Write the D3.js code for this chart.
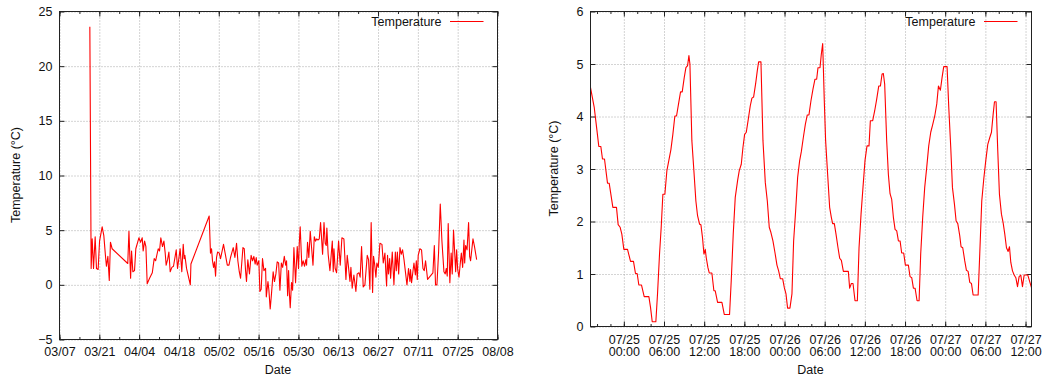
<!DOCTYPE html>
<html>
<head>
<meta charset="utf-8">
<script src="https://cdn.jsdelivr.net/npm/d3@7"></script>
<style>
    body { margin: 0; background: #fff; }
    text { font-family: "Liberation Sans", Arial, sans-serif; font-size: 12.5px; fill: #111; }
    .grid line { stroke: #a8a8a8; stroke-dasharray: 1,2; }
    .grid path { display: none; }
    .ticks line { stroke: #222; }
    .ticks path { display: none; }
</style>
</head>
<body>
<svg id="chart" width="1048" height="381"></svg>
<script>

// left panel: whole season, "MM/DD HH"
var leftDates = ["03/17 16","03/18 03","03/18 12","03/18 23","03/19 13","03/20 00","03/20 14","03/21 02","03/22 00","03/22 14",
    "03/23 05","03/23 12","03/24 00","03/24 12","03/24 22","03/25 12","03/31 00","03/31 10","04/01 00","04/01 08",
    "04/01 19","04/02 09","04/02 20","04/03 22","04/04 12","04/05 02","04/05 10","04/05 22","04/06 09","04/06 20",
    "04/07 16","04/08 15","04/09 07","04/09 19","04/10 17","04/11 04","04/11 15","04/12 05","04/12 17","04/13 04",
    "04/13 12","04/14 00","04/14 11","04/14 22","04/15 12","04/16 02","04/17 01","04/17 12","04/18 10","04/19 00",
    "04/19 12","04/19 20","04/20 02","04/20 16","04/22 00","04/22 05","04/28 15","04/29 02","04/29 11","04/29 19",
    "04/30 04","04/30 12","04/30 21","05/01 05","05/01 14","05/02 04","05/02 15","05/03 16","05/04 09","05/05 00",
    "05/05 14","05/06 03","05/07 02","05/07 16","05/08 06","05/08 17","05/09 05","05/09 16","05/10 12","05/10 23",
    "05/11 10","05/11 18","05/12 05","05/12 19","05/13 09","05/13 21","05/14 08","05/14 19","05/15 04","05/15 12",
    "05/16 02","05/16 11","05/16 22","05/17 09","05/17 21","05/18 11","05/18 17","05/19 07","05/19 15","05/20 02",
    "05/20 13","05/21 03","05/21 14","05/22 02","05/22 13","05/23 01","05/23 12","05/24 00","05/24 11","05/25 01",
    "05/25 12","05/25 20","05/26 05","05/26 13","05/26 19","05/27 03","05/27 14","05/27 23","05/28 10","05/29 00",
    "05/29 14","05/30 01","05/30 07","05/30 15","05/31 05","05/31 16","06/01 04","06/01 15","06/01 21","06/02 05",
    "06/02 16","06/03 04","06/04 03","06/04 14","06/05 01","06/05 10","06/05 21","06/06 08","06/06 19","06/07 12",
    "06/08 00","06/08 10","06/08 19","06/09 00","06/09 11","06/10 02","06/10 22","06/11 06","06/11 12","06/11 22",
    "06/12 10","06/13 03","06/13 17","06/14 07","06/15 00","06/15 09","06/15 17","06/16 04","06/16 15","06/17 03",
    "06/17 11","06/17 22","06/18 12","06/19 05","06/19 16","06/20 07","06/20 17","06/21 05","06/21 19","06/22 09",
    "06/23 05","06/23 16","06/24 03","06/24 14","06/25 02","06/25 10","06/25 19","06/26 06","06/26 14","06/27 02",
    "06/27 16","06/28 09","06/28 20","06/29 10","06/29 18","06/30 00","06/30 08","06/30 16","07/01 02","07/01 10",
    "07/02 00","07/02 14","07/03 02","07/03 10","07/03 19","07/04 06","07/04 17","07/05 04","07/05 15","07/06 03",
    "07/07 04","07/07 17","07/08 05","07/08 10","07/08 19","07/09 15","07/10 03","07/10 11","07/10 19","07/11 03",
    "07/11 17","07/12 07","07/12 19","07/13 06","07/13 17","07/14 10","07/16 07","07/16 19","07/17 05","07/17 17",
    "07/18 07","07/18 21","07/19 11","07/20 04","07/20 15","07/21 00","07/21 08","07/21 16","07/22 06","07/22 17",
    "07/23 02","07/23 13","07/24 07","07/24 15","07/25 00","07/25 11","07/25 22","07/26 07","07/26 18","07/27 05",
    "07/27 11","07/27 19","07/28 07","07/28 20","07/29 05","07/29 13","07/30 09","07/30 22","07/31 16"];

var leftTemps = [23.6,1.5,4.2,1.5,4.4,1.5,1.4,4.0,5.3,4.5,
    2.5,1.7,2.6,0.4,3.9,3.3,1.95,4.9,0.6,3.1,
    1.2,1.3,3.3,4.3,3.9,4.3,3.1,4.0,3.5,0.1,
    0.6,1.1,2.4,2.2,3.3,3.1,4.3,3.5,4.0,2.9,
    1.8,2.3,3.0,1.2,1.6,1.7,3.2,1.5,3.3,1.2,
    3.7,2.4,2.7,1.5,0.0,1.9,6.3,2.9,3.3,2.2,
    1.6,2.1,0.8,2.5,3.0,2.9,2.4,3.7,2.7,1.8,
    1.8,2.5,3.4,2.5,3.8,2.2,1.2,0.6,3.4,3.3,
    1.3,0.3,2.3,1.0,2.7,2.2,2.6,1.9,2.5,1.8,
    2.2,-0.6,-0.4,2.4,1.3,1.5,-1.1,0.3,-0.5,-2.2,
    -0.8,1.2,0.3,1.0,2.1,2.0,-0.5,2.0,1.6,2.6,
    1.8,2.2,-1.0,1.3,-0.6,-2.1,0.2,-0.5,3.4,0.2,
    3.5,1.5,3.7,5.3,1.7,2.2,1.7,2.3,1.8,3.9,
    2.5,4.9,1.8,4.4,4.0,4.2,4.1,4.2,5.7,2.8,
    5.7,3.8,3.6,5.2,2.8,1.3,4.0,1.2,3.3,1.5,
    1.1,4.0,1.8,4.3,4.2,2.3,0.5,2.7,1.6,0.3,
    1.6,-0.3,0.9,-0.6,1.0,1.1,0.7,3.5,-0.2,0.0,
    2.7,2.3,-0.4,5.7,-0.7,2.6,1.9,0.7,2.0,1.6,
    3.8,3.7,2.0,2.9,1.1,-0.1,2.7,1.0,2.4,0.6,
    3.0,0.0,3.0,1.3,3.0,1.0,3.4,2.8,3.2,2.3,
    0.0,1.5,0.3,1.4,0.2,2.0,0.9,2.2,0.5,2.7,
    3.3,3.2,1.5,1.3,2.2,0.5,1.1,3.6,0.0,0.0,
    3.0,7.4,4.0,1.2,1.0,1.5,0.8,5.6,0.2,2.9,
    1.0,5.0,1.2,3.2,1.4,0.7,2.0,2.9,1.6,4.1,
    2.0,3.6,3.2,5.7,2.6,2.2,4.2,3.5,2.3];

var leftRange = ["03/07", "08/08"];
var leftYTicks = [-5, 0, 5, 10, 15, 20, 25];

// right panel: last days, hours since 07/25 00:00
var rightStart = "07/25 00";
var rightHours = [-4.98,-4.43,-4.04,-3.74,-3.44,-3.19,-2.89,-2.44,-2.19,-1.64,-1.10,-0.85,-0.55,-0.30,0,
    0.55,1.00,1.44,1.74,1.99,2.24,2.64,3.04,3.74,3.99,4.24,4.78,5.03,5.33,5.58,5.83,6.13,6.43,6.73,7.03,
    7.32,7.62,7.87,8.17,8.47,8.72,9.02,9.27,9.52,9.72,9.87,10.16,10.46,10.76,11.01,11.31,11.51,11.76,11.96,
    12.16,12.31,12.56,12.76,13.15,13.45,13.65,14.00,14.65,15.00,15.79,16.04,16.34,16.64,16.99,17.24,17.54,
    17.79,18.04,18.29,18.59,18.88,19.13,19.38,19.68,19.93,20.13,20.48,20.78,21.13,21.43,21.72,21.97,22.27,
    22.57,22.87,23.12,23.37,23.72,23.97,24.22,24.46,24.81,25.11,25.36,25.66,25.96,26.26,26.51,26.81,27.11,
    27.40,27.65,27.95,28.25,28.55,28.80,29.00,29.30,29.50,29.70,29.94,30.14,30.44,30.74,30.99,31.19,31.44,
    31.69,31.99,32.24,32.49,32.79,33.53,33.73,33.98,34.23,34.53,34.88,35.13,35.43,35.72,36.02,36.32,36.62,
    36.82,37.17,37.47,37.77,38.07,38.32,38.57,38.76,38.96,39.26,39.51,39.76,40.01,40.26,40.51,40.76,41.01,
    41.26,41.50,41.80,42.05,42.50,42.75,43.00,43.25,43.50,43.80,44.10,44.34,44.64,44.94,45.24,45.54,45.84,
    46.14,46.44,46.74,46.99,47.28,47.53,47.78,48.28,48.53,48.83,49.08,49.38,49.63,49.88,50.17,50.37,50.62,
    50.92,51.17,51.42,51.67,51.92,52.17,52.92,53.16,53.46,53.76,54.06,54.36,54.66,54.91,55.16,55.36,55.60,
    55.85,56.10,56.40,56.65,56.90,57.15,57.40,57.60,57.80,58.05,58.30,58.55,58.80,59.04,59.29,59.54,59.79,
    60.09,60.34,60.59,60.89];

var rightTemps = [4.55,4.18,3.76,3.43,3.43,3.19,3.19,2.73,2.73,2.27,2.27,1.94,1.89,1.76,1.47,
    1.47,1.24,1.24,1.01,1.01,0.79,0.79,0.57,0.57,0.36,0.09,0.09,0.62,1.38,1.89,2.52,2.52,2.97,3.17,3.37,
    3.66,4.01,4.01,4.24,4.47,4.47,4.74,4.93,4.97,5.16,5.0,3.54,2.97,2.39,2.11,1.95,1.94,1.68,1.38,
    1.47,1.31,1.12,1.02,1.02,0.68,0.68,0.46,0.46,0.23,0.23,0.87,1.76,2.46,2.78,2.97,3.09,
    3.41,3.66,3.70,3.95,4.20,4.35,4.37,4.62,4.87,5.04,5.04,3.54,2.74,2.39,1.89,1.79,1.63,
    1.41,1.17,1.06,0.91,0.91,0.74,0.62,0.35,0.35,0.62,1.63,2.2,2.84,3.16,3.33,3.6,
    3.85,4.03,4.03,4.3,4.52,4.71,4.71,4.93,4.93,5.19,5.39,4.3,3.54,2.9,2.27,2.08,1.96,
    1.96,1.76,1.5,1.3,1.26,1.05,1.05,0.73,0.82,0.82,0.49,0.49,1.5,2.14,2.65,3.16,3.44,
    3.44,3.92,3.92,4.11,4.33,4.58,4.58,4.81,4.82,4.62,3.54,2.9,2.53,2.42,2.08,1.85,1.82,
    1.63,1.63,1.4,1.4,1.17,1.17,0.95,0.93,0.73,0.73,0.49,0.49,1.38,2.08,2.65,3.03,3.44,
    3.7,3.85,4.01,4.24,4.58,4.5,4.74,4.95,4.95,4.18,3.41,2.65,2.33,2.01,1.96,1.73,1.52,
    1.5,1.25,1.07,1.05,0.84,0.82,0.6,0.6,1.38,2.39,2.81,3.16,3.47,3.6,3.7,4.04,4.28,
    4.28,3.35,2.52,2.14,1.98,1.76,1.5,1.43,1.52,1.22,1.06,0.98,0.93,0.76,0.95,0.98,0.76,
    0.98,0.98,0.98,0.87,0.74];

var rightYTicks = [0, 1, 2, 3, 4, 5, 6];

var seriesName = "Temperature";
var xTitle = "Date";
var yTitle = "Temperature (°C)";


var parseDay = d3.timeParse("%Y/%m/%d %H");
function toDate(s) {
    if (s.length == 5) s = s + " 00";
    return parseDay("2013/" + s);
}

var svg = d3.select("#chart");

// one gnuplot-like panel
function panel(box, x, y, data, xMajor, xMinor, yTicks, twoLine) {
    var w = box.r - box.l,
        h = box.b - box.t;

    x.range([0, w]);
    y.range([h, 0]);

    var g = svg.append("g")
        .attr("transform", "translate(" + (box.l + 0.5) + "," + (box.t + 0.5) + ")");

    // dotted grid
    g.append("g")
        .attr("class", "grid")
        .attr("transform", "translate(0," + h + ")")
        .call(d3.axisBottom(x).tickValues(xMajor).tickSize(-h).tickFormat(""));

    g.append("g")
        .attr("class", "grid")
        .call(d3.axisLeft(y).tickValues(yTicks).tickSize(-w).tickFormat(""));

    // inward ticks on all four sides
    var bottom = g.append("g")
        .attr("class", "ticks")
        .attr("transform", "translate(0," + h + ")")
        .call(d3.axisBottom(x).tickValues(xMajor).tickSizeInner(-5).tickSizeOuter(0)
            .tickFormat(d3.timeFormat("%m/%d")));

    g.append("g")
        .attr("class", "ticks")
        .attr("transform", "translate(0," + h + ")")
        .call(d3.axisBottom(x).tickValues(xMinor).tickSizeInner(-2.5).tickSizeOuter(0).tickFormat(""));

    g.append("g")
        .attr("class", "ticks")
        .call(d3.axisTop(x).tickValues(xMajor).tickSizeInner(-5).tickSizeOuter(0).tickFormat(""));

    g.append("g")
        .attr("class", "ticks")
        .call(d3.axisTop(x).tickValues(xMinor).tickSizeInner(-2.5).tickSizeOuter(0).tickFormat(""));

    g.append("g")
        .attr("class", "ticks")
        .call(d3.axisLeft(y).tickValues(yTicks).tickSizeInner(-5).tickSizeOuter(0).tickPadding(7)
            .tickFormat(d3.format("d")));

    g.append("g")
        .attr("class", "ticks")
        .attr("transform", "translate(" + w + ",0)")
        .call(d3.axisRight(y).tickValues(yTicks).tickSizeInner(-5).tickSizeOuter(0).tickFormat(""));

    var hm = d3.timeFormat("%H:%M");
    bottom.selectAll("text")
        .attr("dy", null)
        .each(function(d) {
            var t = d3.select(this);
            if (twoLine) {
                var day = t.text();
                t.text(null);
                t.append("tspan").attr("x", 0).attr("y", 17).text(day);
                t.append("tspan").attr("x", 0).attr("y", 29.5).text(hm(d));
            } else {
                t.attr("y", 16);
            }
        });

    // the data
    g.append("path")
        .datum(data)
        .attr("fill", "none")
        .attr("stroke", "#ff0000")
        .attr("stroke-width", 1.1)
        .attr("stroke-linejoin", "round")
        .attr("d", d3.line()
            .x(function(d) { return x(d[0]); })
            .y(function(d) { return y(d[1]); }));

    // frame
    g.append("rect")
        .attr("width", w)
        .attr("height", h)
        .attr("fill", "none")
        .attr("stroke", "#222");

    // key
    g.append("text")
        .attr("x", w - 56)
        .attr("y", 14)
        .attr("text-anchor", "end")
        .text(seriesName);

    g.append("line")
        .attr("x1", w - 47.5)
        .attr("x2", w - 14)
        .attr("y1", 10)
        .attr("y2", 10)
        .attr("stroke", "#ff0000")
        .attr("stroke-width", 1.1);

    // axis titles
    svg.append("text")
        .attr("x", (box.l + box.r) / 2)
        .attr("y", 374)
        .attr("text-anchor", "middle")
        .text(xTitle);

    svg.append("text")
        .attr("transform", "translate(" + box.yt + "," + (box.t + box.b) / 2 + ")rotate(-90)")
        .attr("text-anchor", "middle")
        .text(yTitle);
}


// left: whole season, 14 day major ticks
var leftData = d3.zip(leftDates.map(toDate), leftTemps);
var leftX = d3.scaleTime().domain(leftRange.map(toDate));
var leftY = d3.scaleLinear().domain(d3.extent(leftYTicks));
var leftDays = d3.timeDay.range(leftX.domain()[0], d3.timeHour.offset(leftX.domain()[1], 1));

panel({l: 59, r: 497, t: 11, b: 339, yt: 19.5},
    leftX, leftY, leftData,
    leftDays.filter(function(d, i) { return i % 14 == 0; }),
    leftDays.filter(function(d, i) { return i % 7 == 0; }),
    leftYTicks, false);

// right: three days, 6 hour major ticks
var t0 = toDate(rightStart);
var rightData = d3.zip(rightHours.map(function(hr) { return new Date(+t0 + hr * 3600e3); }), rightTemps);
var rightX = d3.scaleTime().domain(d3.extent(rightData, function(d) { return d[0]; }));
var rightY = d3.scaleLinear().domain(d3.extent(rightYTicks));

panel({l: 590, r: 1031, t: 11, b: 326, yt: 557.5},
    rightX, rightY, rightData,
    d3.timeHour.every(6).range(rightX.domain()[0], rightX.domain()[1]),
    d3.timeHour.every(2).range(rightX.domain()[0], rightX.domain()[1]),
    rightYTicks, true);

</script>
</body>
</html>
